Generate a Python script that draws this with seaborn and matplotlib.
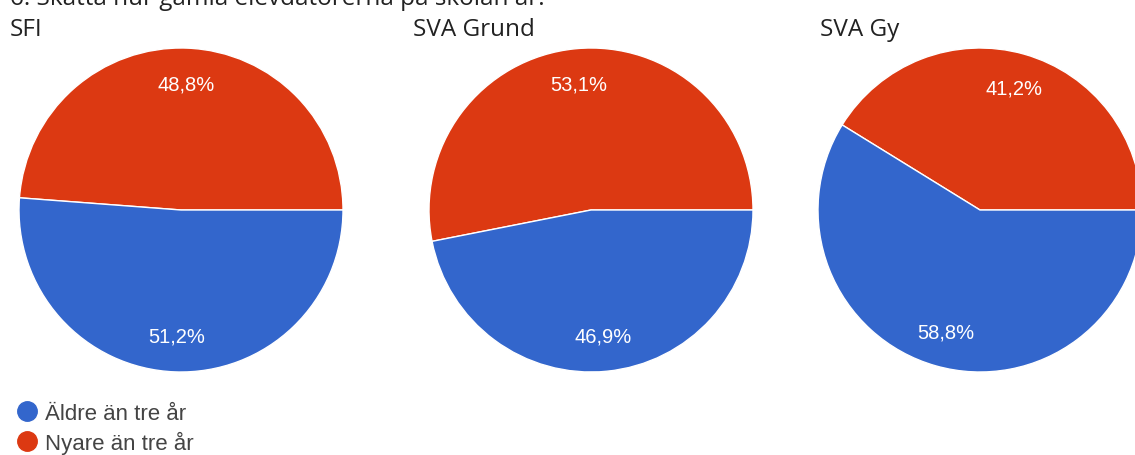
import matplotlib
matplotlib.use("Agg")
import matplotlib.pyplot as plt
from matplotlib.lines import Line2D
import seaborn as sns

# Data
groups = ["SFI", "SVA Grund", "SVA Gy"]
nyare = [48.8, 53.1, 41.2]
aldre = [51.2, 46.9, 58.8]
labels = ["Äldre än tre år", "Nyare än tre år"]
title = "6. Skatta hur gamla elevdatorerna på skolan är."

sns.set_theme(style="white")
plt.rcParams['font.family'] = ['Liberation Sans', 'DejaVu Sans']

blue, red = "#3366cc", "#dc3912"

W, H = 1135, 456
fig = plt.figure(figsize=(W / 100, H / 100), dpi=100)

centers_x = [181, 591, 980]
cy = 211
r = 162
title_x = [10, 413, 820]

for i, g in enumerate(groups):
    cx = centers_x[i]
    ax = fig.add_axes([(cx - r) / W, (H - cy - r) / H, 2 * r / W, 2 * r / H])
    wedges, _, autotexts = ax.pie(
        [nyare[i], aldre[i]], colors=[red, blue], startangle=0,
        counterclock=True, autopct=lambda p: f"{p:.1f}%".replace(".", ","),
        pctdistance=0.78, wedgeprops=dict(edgecolor="white", linewidth=1))
    for t in autotexts:
        t.set_color("white")
        t.set_fontsize(14.5)
    ax.set_xlim(-1, 1)
    ax.set_ylim(-1, 1)
    fig.text(title_x[i] / W, 1 - 36 / H, g, fontsize=17.5, family="Open Sans",
             color="#222222", va="baseline")

fig.text(10 / W, 1 - 5 / H, title, fontsize=17.5, family="Open Sans",
         color="#222222", va="baseline")

handles = [Line2D([], [], marker="o", linestyle="", markersize=14,
                  markerfacecolor=c, markeredgecolor=c) for c in (blue, red)]
fig.legend(handles, labels, loc="upper left", bbox_to_anchor=(7 / W, 1 - 395 / H),
           frameon=False, fontsize=16, handletextpad=0.3, labelspacing=0.3,
           labelcolor="#444444", borderaxespad=0, handlelength=1.0)

fig.savefig("out.png", dpi=100)
